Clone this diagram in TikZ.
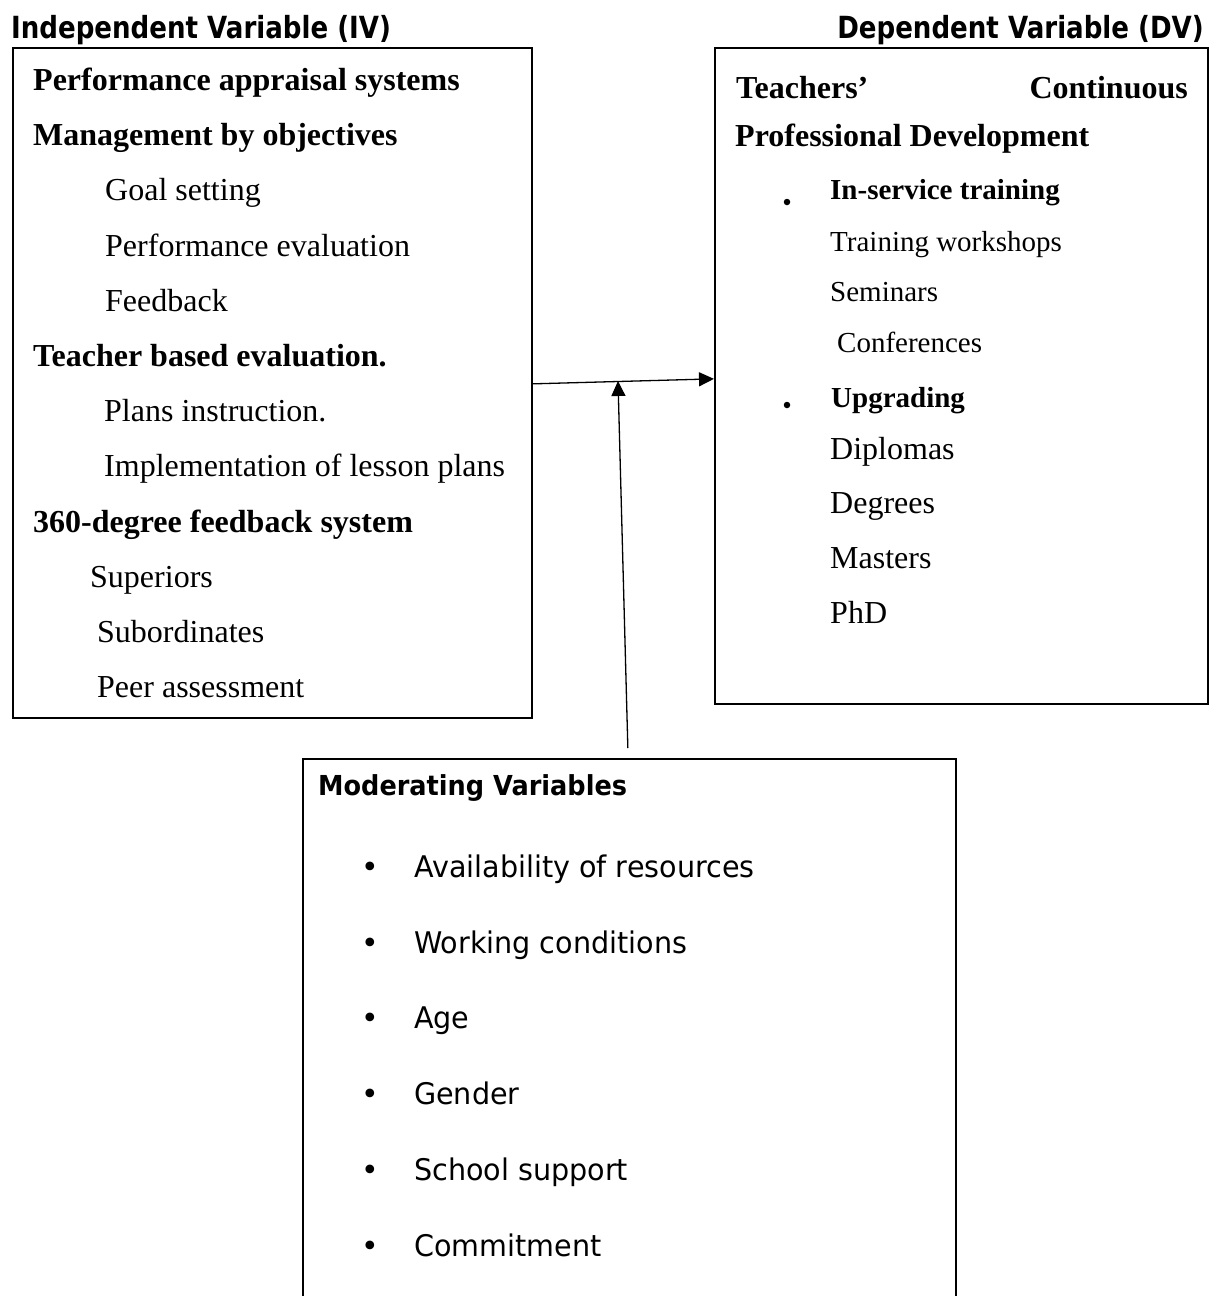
\documentclass[tikz,border=0pt]{standalone}
\usepackage{graphicx}
\usepackage{fontspec}
\setmainfont{Liberation Serif}
\newfontfamily\sansf{DejaVu Sans}
\newcommand\hsq[2]{\scalebox{#1}[1]{#2}}
\usetikzlibrary{arrows.meta}
\begin{document}
\begin{tikzpicture}[x=1pt,y=-1pt,
  frame/.style={draw, line width=1.7pt, inner sep=0pt, anchor=north west},
  txt/.style={inner sep=0pt, anchor=base west, font=\fontsize{32}{38}\selectfont},
  btxt/.style={txt, font=\fontsize{32}{38}\selectfont\bfseries},
  stxt/.style={txt, font=\fontsize{29}{35}\selectfont},
  sbtxt/.style={txt, font=\fontsize{29}{35}\selectfont\bfseries},
  head/.style={inner sep=0pt, font=\sansf\bfseries\fontsize{30.5}{34}\selectfont},
  mhead/.style={inner sep=0pt, anchor=base west, font=\sansf\bfseries\fontsize{27.5}{32}\selectfont},
  mtxt/.style={inner sep=0pt, anchor=base west, font=\sansf\fontsize{29.8}{34}\selectfont},
  mbul/.style={inner sep=0pt, anchor=base, font=\sansf\fontsize{29.8}{34}\selectfont},
  dot/.style={fill=black, circle, inner sep=0pt, minimum size=6.5pt},
  conn/.style={line width=1.3pt, -{Triangle[length=15pt,width=14pt]}}
]
\clip (0,0) rectangle (1211,1296);
\fill[white] (0,0) rectangle (1211,1296);

% headers
\node[head, anchor=base west] (ivh) at (11,38) {\hsq{0.855}{Independent Variable (IV)}};
\node[head, anchor=base east] (dvh) at (1204,38) {\hsq{0.855}{Dependent Variable (DV)}};

% boxes
\node[frame, minimum width=519pt, minimum height=670pt] (iv) at (12,47) {};
\node[frame, minimum width=493pt, minimum height=656pt] (dv) at (714,47) {};
\node[frame, minimum width=653pt, minimum height=600pt] (mod) at (302,758) {};

% left box texts
\node[btxt] (l1) at (33,90) {Performance appraisal systems};
\node[btxt] (l2) at (33,145) {Management by objectives};
\node[txt] (l3) at (105,200) {Goal setting};
\node[txt] (l4) at (105,256) {Performance evaluation};
\node[txt] (l5) at (105,311) {Feedback};
\node[btxt] (l6) at (33,366) {Teacher based evaluation.};
\node[txt] (l7) at (104,421) {Plans instruction.};
\node[txt] (l8) at (104,476) {Implementation of lesson plans};
\node[btxt] (l9) at (33,532) {360-degree feedback system};
\node[txt] (l10) at (90,587) {Superiors};
\node[txt] (l11) at (97,642) {Subordinates};
\node[txt] (l12) at (97,697) {Peer assessment};

% right box texts
\node[btxt] (r1a) at (736,98) {Teachers’};
\node[btxt, anchor=base east] (r1b) at (1188,98) {Continuous};
\node[btxt] (r2) at (735,146) {Professional Development};
\node[dot] (d1) at (787,202) {};
\node[sbtxt] (r3) at (830,199) {In-service training};
\node[stxt] (r4) at (830,251) {Training workshops};
\node[stxt] (r5) at (830,301) {Seminars};
\node[stxt] (r6) at (837,352) {Conferences};
\node[dot] (d2) at (787,405) {};
\node[sbtxt] (r7) at (831,407) {Upgrading};
\node[txt] (r8) at (830,459) {Diplomas};
\node[txt] (r9) at (830,513) {Degrees};
\node[txt] (r10) at (830,568) {Masters};
\node[txt] (r11) at (830,623) {PhD};

% moderating box texts
\node[mhead] (m0) at (318,795) {\hsq{0.93}{Moderating Variables}};
\foreach \i/\yy/\t in {1/877/Availability of resources, 2/953/Working conditions, 3/1028/Age, 4/1104/Gender, 5/1180/School support, 6/1256/Commitment}{
  \node[mbul] (mb\i) at (370,\yy) {•};
  \node[mtxt] (m\i) at (414,\yy) {\hsq{0.96}{\t}};
}

% connectors
\coordinate (j) at (618,381);
\draw[conn] ([yshift=-1pt]iv.east) -- ([yshift=-3pt]dv.west);
\draw[conn] ([xshift=-1.5pt,yshift=10pt]mod.north) -- (j);
\end{tikzpicture}
\end{document}
